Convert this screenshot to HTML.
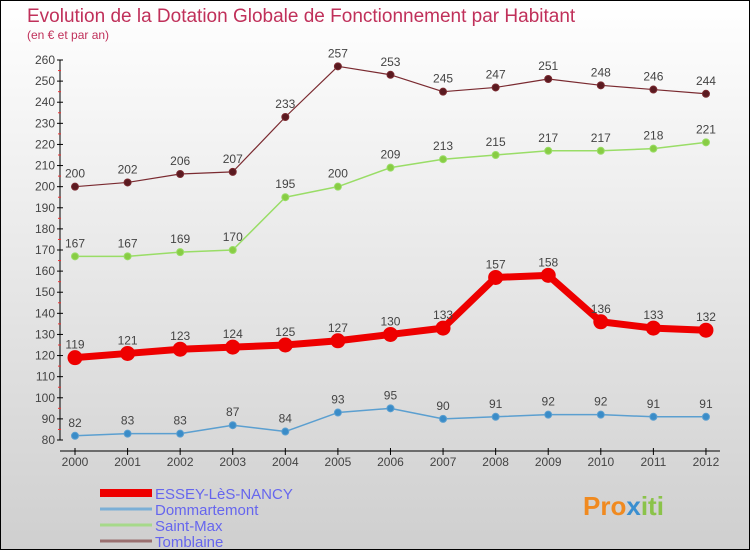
<!DOCTYPE html>
<html><head><meta charset="utf-8"><style>
body{margin:0}
#c{width:750px;height:550px;position:relative;box-sizing:border-box;border:1px solid #000;background:linear-gradient(#fff,#cfcfcf);font-family:"Liberation Sans",sans-serif;overflow:hidden}
</style></head><body>
<div id="c">
<svg id="s" width="750" height="550" style="position:absolute;left:-1px;top:-1px" font-family="Liberation Sans, sans-serif">
<text x="27" y="22" font-size="19" fill="#c0305a">Evolution de la Dotation Globale de Fonctionnement par Habitant</text>
<text x="27" y="39" font-size="12" fill="#c0305a">(en € et par an)</text>
<g id="axes"></g><g id="series"></g><g id="legend"></g>
<text x="583" y="515" font-size="26" font-weight="bold" fill="#f08a20">Pro<tspan fill="#3a8fd0">x</tspan><tspan fill="#8bc34a">iti</tspan></text>
</svg>
</div>
<script>
const years=[2000,2001,2002,2003,2004,2005,2006,2007,2008,2009,2010,2011,2012];
const yTicks=[80,90,100,110,120,130,140,150,160,170,180,190,200,210,220,230,240,250,260];
const seriesNames=["ESSEY-LèS-NANCY","Dommartemont","Saint-Max","Tomblaine"];
const essey=[119,121,123,124,125,127,130,133,157,158,136,133,132];
const dommartemont=[82,83,83,87,84,93,95,90,91,92,92,91,91];
const saintMax=[167,167,169,170,195,200,209,213,215,217,217,218,221];
const tomblaine=[200,202,206,207,233,257,253,245,247,251,248,246,244];
const NS="http://www.w3.org/2000/svg";
const X=i=>75+i*52.58;
const Y=v=>440-(v-80)*(380/180);
function mk(t,a,p){const e=document.createElementNS(NS,t);for(const k in a)e.setAttribute(k,a[k]);p.appendChild(e);return e;}
const ax=document.getElementById('axes');
const yl=mk('line',{x1:60,y1:Y(260),x2:60,y2:440,stroke:'#000'},ax);


const xl=mk('line',{x1:60,y1:451,x2:720,y2:451,stroke:'#000'},ax);


yTicks.forEach(v=>{
  mk('line',{x1:57,x2:63,y1:Y(v),y2:Y(v),stroke:'#000'},ax);
  mk('line',{x1:58,x2:61,y1:Y(v+5),y2:Y(v+5),stroke:'#e33'},ax).style.display=v<260?'':'none';
  const t=mk('text',{x:55,y:Y(v)+4,'text-anchor':'end','font-size':12,fill:'#444'},ax);t.textContent=v;
  
  
});
years.forEach((y,i)=>{
  mk('line',{x1:X(i),x2:X(i),y1:448,y2:455,stroke:'#000'},ax);
  const t=mk('text',{x:X(i),y:466,'text-anchor':'middle','font-size':12,fill:'#444'},ax);t.textContent=y;
  
  
});
const sg=document.getElementById('series');
function draw(d,color,dot,w,r,name){
  const g=mk('g',{},sg);
  
  
  mk('polyline',{points:d.map((v,i)=>X(i)+','+Y(v)).join(' '),fill:'none',stroke:color,'stroke-width':w,'stroke-linejoin':'round'},g);
  d.forEach((v,i)=>{
    const c=mk('circle',{cx:X(i),cy:Y(v),r:r,fill:dot,stroke:color,'stroke-width':1},g);
    
    
    const t=mk('text',{x:X(i),y:Y(v)-9,'text-anchor':'middle','font-size':12,fill:'#444'},g);t.textContent=v;
    
    
  });
}
draw(dommartemont,'#5b9fd0','#3a8cc8',1.5,3.5,'dommartemont-series');
draw(saintMax,'#99dd66','#88cc44',1.5,3.5,'saint-max-series');
draw(tomblaine,'#7a2a30','#5a1a20',1.2,3.5,'tomblaine-series');
draw(essey,'#ee0000','#ee0000',7,7,'essey-series');
const lg=document.getElementById('legend');
const cols=['#ee0000','#7bafd6','#a6d98a','#9a7070'];const ws=[8,3,3,3];
seriesNames.forEach((n,i)=>{
  const y=493+i*16;
  const l=mk('line',{x1:100,x2:152,y1:y,y2:y,stroke:cols[i],'stroke-width':ws[i]},lg);
  
  
  const t=mk('text',{x:155,y:y+6,'font-size':15,fill:'#6666ee'},lg);t.textContent=n;
  
  
});
</script>
</body></html>
